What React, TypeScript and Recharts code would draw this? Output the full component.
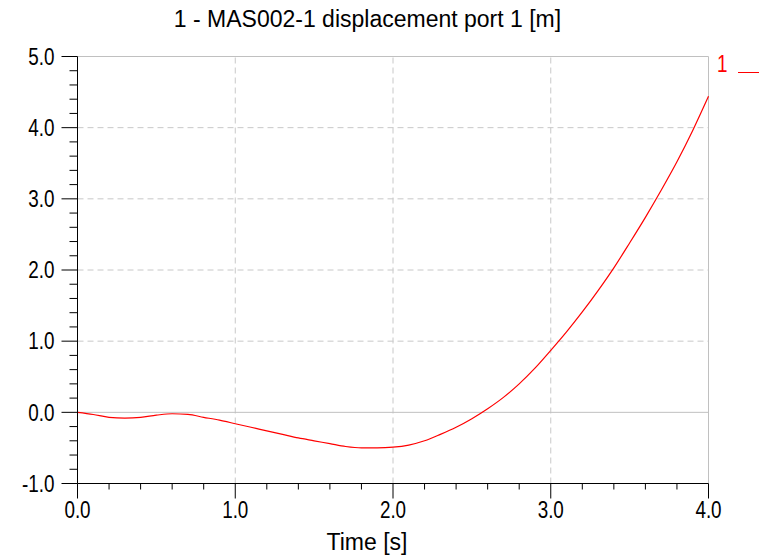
import { LineChart, Line, XAxis, YAxis, ReferenceLine, Legend } from 'recharts';

// time samples [s] and displacement [m]
const TIME = [
    0, 0.1, 0.2, 0.3, 0.4, 0.5, 0.6, 0.7, 0.8, 0.9,
    1.0, 1.1, 1.2, 1.3, 1.4, 1.5, 1.6, 1.7, 1.8, 1.9,
    2.0, 2.1, 2.2, 2.3, 2.4, 2.5, 2.6, 2.7, 2.8, 2.9,
    3.0, 3.1, 3.2, 3.3, 3.4, 3.5, 3.6, 3.7, 3.8, 3.9, 4.0,
];
const DISPLACEMENT = [
    0, -0.03, -0.07, -0.08, -0.07, -0.04, -0.02, -0.03, -0.07, -0.11,
    -0.16, -0.21, -0.26, -0.31, -0.36, -0.40, -0.44, -0.48, -0.50, -0.50,
    -0.49, -0.46, -0.40, -0.31, -0.21, -0.09, 0.05, 0.21, 0.40, 0.62,
    0.87, 1.13, 1.41, 1.71, 2.03, 2.38, 2.74, 3.12, 3.52, 3.96, 4.44,
];

const X_TICKS = [0, 0.2, 0.4, 0.6, 0.8, 1.0, 1.2, 1.4, 1.6, 1.8, 2.0, 2.2, 2.4, 2.6, 2.8, 3.0, 3.2, 3.4, 3.6, 3.8, 4.0];
const Y_TICKS = [
    -1.0, -0.8, -0.6, -0.4, -0.2, 0, 0.2, 0.4, 0.6, 0.8, 1.0, 1.2, 1.4, 1.6, 1.8, 2.0,
    2.2, 2.4, 2.6, 2.8, 3.0, 3.2, 3.4, 3.6, 3.8, 4.0, 4.2, 4.4, 4.6, 4.8, 5.0,
];
const X_GRID = [1, 2, 3];
const Y_GRID = [1, 2, 3, 4];

const SERIES_NAME = '1';
const TITLE = '1 - MAS002-1 displacement port 1 [m]';
const X_LABEL = 'Time [s]';

const TEXT_FONT = '"Liberation Sans", Arial, sans-serif';
// digits in the original are narrow, squeeze them a bit
const NUM_SCALE = 0.82;

const data = TIME.map((t, i) => ({ t, v: DISPLACEMENT[i] }));

const isMajor = (v: number) => Math.abs(v - Math.round(v)) < 1e-6;

const YTick = (props: any) => {
    const { x, y, payload } = props;
    const major = isMajor(payload.value);
    return (
        <g>
            <line x1={x - (major ? 16 : 8)} x2={x} y1={y} y2={y} stroke="#000" />
            {major && (
                <text
                    transform={`translate(${x - 23},${y}) scale(${NUM_SCALE},1)`}
                    dy="0.36em"
                    textAnchor="end"
                    fontSize={23}
                    fontFamily={TEXT_FONT}
                    fill="#000"
                >
                    {payload.value.toFixed(1)}
                </text>
            )}
        </g>
    );
};

const XTick = (props: any) => {
    const { x, y, payload } = props;
    const major = isMajor(payload.value);
    return (
        <g>
            <line x1={x} x2={x} y1={y} y2={y + (major ? 15 : 6)} stroke="#000" />
            {major && (
                <text
                    transform={`translate(${x},${y + 34}) scale(${NUM_SCALE},1)`}
                    textAnchor="middle"
                    fontSize={23}
                    fontFamily={TEXT_FONT}
                    fill="#000"
                >
                    {payload.value.toFixed(1)}
                </text>
            )}
        </g>
    );
};

const XLabel = (props: any) => {
    const { viewBox } = props;
    return (
        <text
            x={viewBox.x + viewBox.width / 2 - 26}
            y={viewBox.y + viewBox.height - 6}
            textAnchor="middle"
            fontSize={23}
            fontFamily={TEXT_FONT}
            fill="#000"
        >
            {X_LABEL}
        </text>
    );
};

const renderLegend = (props: any) => (
    <svg width={46} height={30} style={{ display: 'block' }}>
        {(props.payload || []).map((p: any) => (
            <g key={p.value}>
                <text transform={`translate(4,23) scale(${NUM_SCALE},1)`} fontSize={23} fontFamily={TEXT_FONT} fill={p.color}>
                    {p.value}
                </text>
                <line x1={25} x2={46} y1={23.5} y2={23.5} stroke={p.color} />
            </g>
        ))}
    </svg>
);

export default function App() {
    return (
        <div style={{ position: 'absolute', left: 0, top: 0, width: 760, height: 556, background: '#fff' }}>
            <div
                style={{
                    position: 'absolute', left: 0, top: 8, width: 735, textAlign: 'center',
                    fontFamily: TEXT_FONT, fontSize: 23, lineHeight: '23px', color: '#000',
                }}
            >
                {TITLE}
            </div>
            <LineChart width={760} height={556} data={data} margin={{ top: 56.5, right: 51.5, left: 0, bottom: 0 }}>
                {Y_GRID.map((v) => (
                    <ReferenceLine key={`gy${v}`} y={v} stroke="#c8c8c8" strokeDasharray="6 4" />
                ))}
                {X_GRID.map((v) => (
                    <ReferenceLine key={`gx${v}`} x={v} stroke="#c8c8c8" strokeDasharray="6 4" />
                ))}
                <ReferenceLine y={0} stroke="#c0c0c0" />
                <ReferenceLine y={5} stroke="#c0c0c0" />
                <ReferenceLine x={4} stroke="#c0c0c0" />
                <XAxis
                    dataKey="t"
                    type="number"
                    domain={[0, 4]}
                    ticks={X_TICKS}
                    interval={0}
                    height={72.5}
                    axisLine={{ stroke: '#000' }}
                    tickLine={false}
                    tickSize={0}
                    tickMargin={0}
                    tick={<XTick />}
                    label={<XLabel />}
                />
                <YAxis
                    type="number"
                    domain={[-1, 5]}
                    ticks={Y_TICKS}
                    interval={0}
                    width={77.5}
                    axisLine={{ stroke: '#000' }}
                    tickLine={false}
                    tickSize={0}
                    tickMargin={0}
                    tick={<YTick />}
                />
                <Legend
                    layout="horizontal"
                    align="center"
                    verticalAlign="middle"
                    content={renderLegend}
                    wrapperStyle={{ position: 'absolute', left: 713, top: 49, width: 46 }}
                />
                <Line
                    name={SERIES_NAME}
                    dataKey="v"
                    type="monotone"
                    stroke="#ff0000"
                    strokeWidth={1.2}
                    dot={false}
                    isAnimationActive={false}
                />
            </LineChart>
        </div>
    );
}
